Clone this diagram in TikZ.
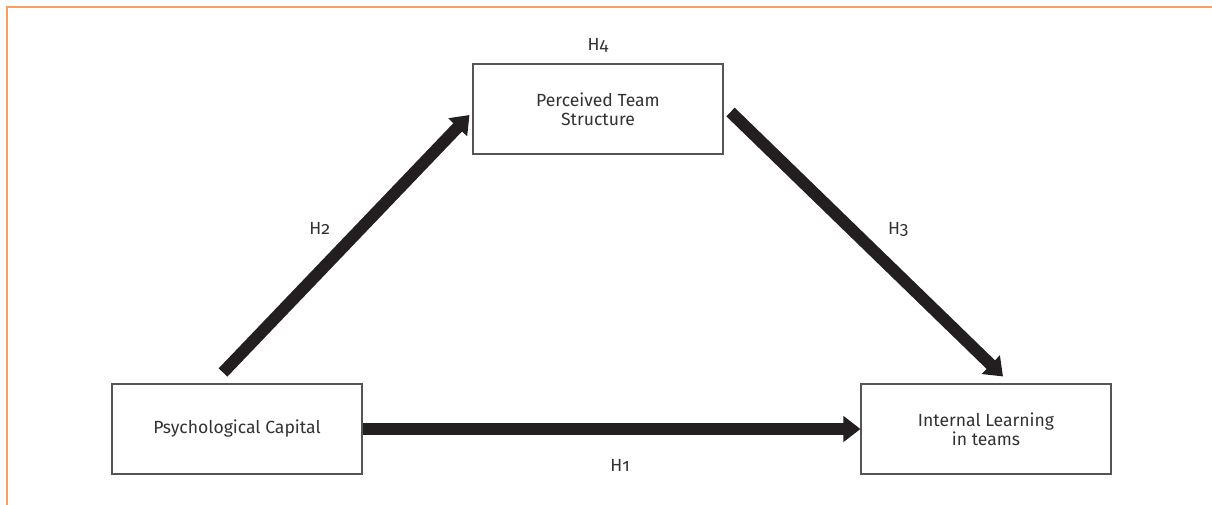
\documentclass[tikz,border=0pt]{standalone}
\usepackage{fontspec}
\setmainfont{Fira Sans}[Numbers=OldStyle]
\usetikzlibrary{arrows.meta, positioning}
\definecolor{framecol}{RGB}{247,160,100}
\definecolor{boxline}{RGB}{85,85,85}
\definecolor{arrowcol}{RGB}{35,31,32}
\definecolor{textcol}{RGB}{50,50,50}
\tikzset{
	construct/.style={draw=boxline, line width=0.6pt, minimum width=5cm, minimum height=1.8cm, align=center, text=textcol, font=\fontsize{10}{11}\selectfont},
	effect/.style={draw=arrowcol, line width=0.24cm, -{Triangle[length=0.34cm, width=0.5cm]}},
	hlabel/.style={text=textcol, font=\fontsize{10}{11}\selectfont}
}

\begin{document}
\begin{tikzpicture}
		\useasboundingbox (0,0) rectangle (24.24,-10.1);
		% Frame corner
		\draw[framecol, line width=0.04cm] (0.14,-10.1) -- (0.14,-0.14) -- (24.24,-0.14);
		
		% Perceived Team Structure
		\node[construct] (pts) at (11.96,-2.18) {Perceived Team\\Structure};
		\node[hlabel, above=0.1cm of pts] (h4) {H4};
		
		% Psychological Capital
		\node[construct] (psy) at (4.74,-8.58) {Psychological Capital};
		
		% Internal Learning in teams
		\node[construct] (ilt) at (19.72,-8.58) {Internal Learning\\in teams};
		
		% Arrows
		\draw[effect] (psy.east) -- (ilt.west) node[hlabel, midway, below=0.38cm, xshift=0.17cm] (h1) {H1};
		\draw[effect] ([shift={(-0.28,0.22)}]psy.north) -- ([shift={(-0.06,-0.12)}]pts.west) node[hlabel, midway, xshift=-0.53cm, yshift=0.3cm] (h2) {H2};
		\draw[effect] ([shift={(0.14,-0.06)}]pts.east) -- ([shift={(0.34,0.14)}]ilt.north) node[hlabel, midway, xshift=0.63cm, yshift=0.29cm] (h3) {H3};
	\end{tikzpicture}
\end{document}
